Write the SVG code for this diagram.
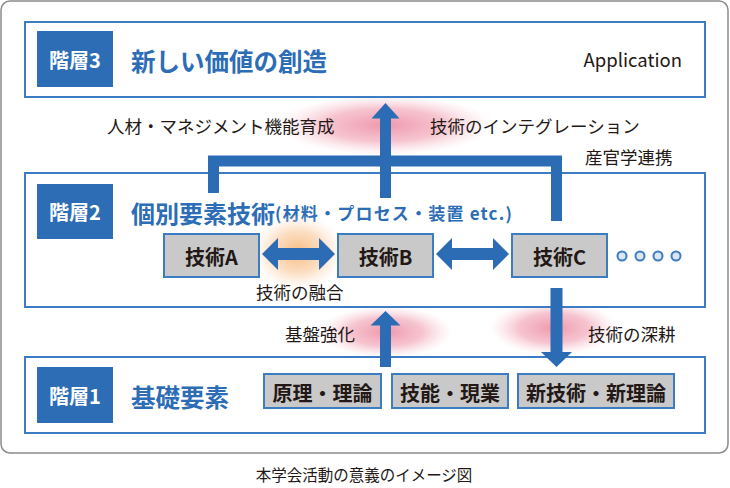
<svg xmlns="http://www.w3.org/2000/svg" width="730" height="488" viewBox="0 0 730 488">
<defs>
<radialGradient id="pink">
<stop offset="0" stop-color="#ef98ad" stop-opacity="1"/>
<stop offset="0.55" stop-color="#f3b0bf" stop-opacity="0.75"/>
<stop offset="1" stop-color="#f8d0d9" stop-opacity="0"/>
</radialGradient>
<radialGradient id="orange">
<stop offset="0" stop-color="#f8bb80" stop-opacity="1"/>
<stop offset="0.55" stop-color="#fad0a8" stop-opacity="0.7"/>
<stop offset="1" stop-color="#fde4cf" stop-opacity="0"/>
</radialGradient>
</defs>
<style>
text{font-family:"Noto Sans CJK JP","Noto Sans",sans-serif;}
.layer{fill:#fff;stroke:#3b7cc2;stroke-width:2;}
.lbl{fill:#2c6db5;}
.lbltxt{fill:#fff;font-size:20px;font-weight:700;text-anchor:middle;dominant-baseline:central;}
.title{fill:#2c6db5;font-weight:700;dominant-baseline:central;}
.tech{fill:#c9c9c9;stroke:#3b7cc2;stroke-width:2;}
.techtxt{fill:#231815;font-size:20px;font-weight:700;text-anchor:middle;dominant-baseline:central;}
.note{fill:#231815;font-size:17.5px;dominant-baseline:central;}
.conn{fill:none;stroke:#2b6cb5;stroke-width:11;}
.arrow{fill:#2b6cb5;}
.dot{fill:#dce6f2;stroke:#3b7cc2;stroke-width:2;}
</style>
<rect x="1" y="1" width="727" height="452" rx="9" fill="#fff" stroke="#8c8c8c" stroke-width="1.5"/>

<ellipse cx="385" cy="125" rx="108" ry="30" fill="url(#pink)"/>
<ellipse cx="386" cy="332" rx="66" ry="26" fill="url(#pink)"/>
<ellipse cx="554" cy="328" rx="64" ry="27" fill="url(#pink)"/>

<g id="layer3">
<rect class="layer" x="25" y="22" width="680" height="75"/>
<rect class="lbl" x="37" y="31" width="76" height="56"/>
<text class="lbltxt" x="75" y="59">階層3</text>
<text class="title" x="131" y="60" font-size="24.5">新しい価値の創造</text>
<text x="682" y="59" font-size="18.5" fill="#231815" text-anchor="end" dominant-baseline="central">Application</text>
</g>

<g id="layer2">
<rect class="layer" x="25" y="173" width="680" height="134"/>
<rect class="lbl" x="37" y="184" width="76" height="55"/>
<text class="lbltxt" x="75" y="211.5">階層2</text>
<text class="title" x="131" y="212" font-size="24">個別要素技術<tspan font-size="17" letter-spacing="1.2">(材料・プロセス・装置 etc.)</tspan></text>
</g>

<g id="layer1">
<rect class="layer" x="25" y="357" width="680" height="76"/>
<rect class="lbl" x="37" y="367" width="76" height="56"/>
<text class="lbltxt" x="75" y="395">階層1</text>
<text class="title" x="131" y="396" font-size="24.5">基礎要素</text>
</g>

<ellipse cx="298" cy="252" rx="46" ry="38" fill="url(#orange)"/>

<g id="techA">
<rect class="tech" x="164" y="234" width="95" height="43"/>
<text class="techtxt" x="211.5" y="256">技術A</text>
</g>
<g id="techB">
<rect class="tech" x="338" y="234" width="95" height="43"/>
<text class="techtxt" x="385.5" y="256">技術B</text>
</g>
<g id="techC">
<rect class="tech" x="512" y="234" width="95" height="43"/>
<text class="techtxt" x="559.5" y="256">技術C</text>
</g>
<g id="more">
<circle class="dot" cx="622" cy="256" r="4.5"/>
<circle class="dot" cx="640" cy="256" r="4.5"/>
<circle class="dot" cx="658" cy="256" r="4.5"/>
<circle class="dot" cx="676" cy="256" r="4.5"/>
</g>

<g id="base1">
<rect class="tech" x="264" y="374" width="117" height="34"/>
<text class="techtxt" x="322.5" y="392">原理・理論</text>
</g>
<g id="base2">
<rect class="tech" x="392" y="374" width="116" height="34"/>
<text class="techtxt" x="450" y="392">技能・現業</text>
</g>
<g id="base3">
<rect class="tech" x="518" y="374" width="156" height="34"/>
<text class="techtxt" x="596" y="392">新技術・新理論</text>
</g>

<g id="connectors">
<path class="conn" d="M213.5,193 V161 H556.5 V221"/>
<path class="conn" d="M385.5,198 V116"/>
<polygon class="arrow" points="385.5,103 371.5,118.5 399.5,118.5"/>
<path class="arrow" d="M262,254 L278,238 L278,248 L319,248 L319,238 L335,254 L319,270 L319,260 L278,260 L278,270 Z"/>
<path class="arrow" d="M436,254 L452,238 L452,248 L493,248 L493,238 L509,254 L493,270 L493,260 L452,260 L452,270 Z"/>
<path class="conn" d="M385.5,367 V323"/>
<polygon class="arrow" points="385.5,311 370.5,325.5 400.5,325.5"/>
<path class="conn" style="stroke-width:12" d="M556.5,288 V354"/>
<polygon class="arrow" points="556.5,367 541,352 572,352"/>
</g>

<g id="labels">
<text class="note" x="107" y="125">人材・マネジメント機能育成</text>
<text class="note" x="430" y="125">技術のインテグレーション</text>
<text class="note" x="585" y="156">産官学連携</text>
<text class="note" x="256" y="291">技術の融合</text>
<text class="note" x="285" y="333">基盤強化</text>
<text class="note" x="588" y="333">技術の深耕</text>
<text x="364" y="474" font-size="15.5" fill="#231815" text-anchor="middle" dominant-baseline="central">本学会活動の意義のイメージ図</text>
</g>
</svg>
